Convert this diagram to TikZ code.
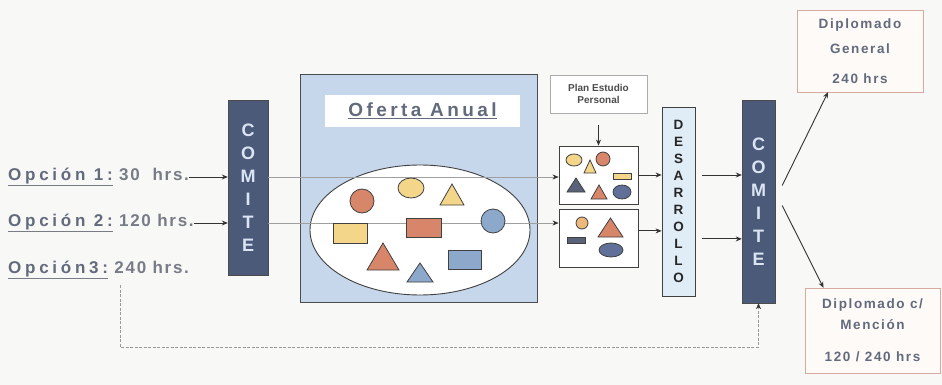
\documentclass[tikz,border=0pt]{standalone}
\usepackage{fontspec}
\setmainfont{Liberation Sans}
\newfontfamily\wideface[LetterSpace=22]{Liberation Sans}
\newfontfamily\titleface[LetterSpace=18]{Liberation Sans}
\newfontfamily\midface[LetterSpace=10]{Liberation Sans}
\newfontfamily\dipface[LetterSpace=12]{Liberation Sans}
\usetikzlibrary{positioning,arrows.meta,shapes.geometric}
\definecolor{paper}{RGB}{248,248,246}
\definecolor{comblue}{RGB}{76,90,122}
\definecolor{comtxt}{RGB}{218,228,242}
\definecolor{ofblue}{RGB}{198,215,236}
\definecolor{desfill}{RGB}{224,237,247}
\definecolor{labcol}{RGB}{98,106,124}
\definecolor{plaincol}{RGB}{120,124,134}
\definecolor{shorange}{RGB}{216,134,106}
\definecolor{shyellow}{RGB}{244,214,138}
\definecolor{shblue}{RGB}{140,168,202}
\definecolor{shdark}{RGB}{88,98,120}
\definecolor{shnavy}{RGB}{96,112,152}
\definecolor{shpeach}{RGB}{236,184,124}
\definecolor{dipline}{RGB}{214,170,160}
\definecolor{dipfill}{RGB}{253,250,248}
\tikzset{
  comite/.style ={draw=black!70, fill=comblue, text=comtxt, minimum width=40pt,
                  align=center, inner sep=0pt, font=\bfseries\fontsize{18}{23}\selectfont},
  desbox/.style ={draw=black!75, fill=desfill, text=black!85, minimum width=33pt,
                  minimum height=189pt, align=center, inner sep=0pt, line width=0.8pt,
                  font=\bfseries\fontsize{13.5}{17}\selectfont},
  offer/.style  ={draw=black!70, fill=ofblue, line width=1pt,
                  minimum width=237pt, minimum height=227pt},
  titlebox/.style={fill=white, minimum width=195pt, minimum height=32pt, text=labcol,
                  font=\titleface\bfseries\fontsize{19}{22}\selectfont},
  pool/.style   ={ellipse, draw=black!75, fill=white, line width=0.9pt,
                  minimum width=220pt, minimum height=130pt},
  selbox/.style ={draw=black!75, fill=white, line width=0.9pt,
                  minimum width=79pt, minimum height=58pt},
  planbox/.style={draw=gray!65, fill=white, minimum width=97pt, minimum height=38pt,
                  align=center, text=black!70, font=\bfseries\fontsize{10}{12}\selectfont},
  dipbox/.style ={draw=dipline, fill=dipfill, align=center, text=labcol,
                  font=\dipface\bfseries\fontsize{13.5}{25}\selectfont},
  opt/.style    ={anchor=west, inner sep=0pt, text=plaincol,
                  font=\midface\bfseries\fontsize{17}{19}\selectfont},
  fl/.style     ={-{Stealth[length=6pt,width=5pt]}, line width=0.9pt, black!80},
  guide/.style  ={-{Stealth[length=6pt,width=5pt,color=black!80]}, line width=0.5pt, gray!75},
  back/.style   ={-{Stealth[length=6pt,width=5pt,color=black!80]}, line width=0.5pt, gray!80,
                  dash pattern=on 3pt off 1.5pt},
  shO/.style    ={fill=shorange, draw=black!75, line width=0.8pt},
  shY/.style    ={fill=shyellow, draw=black!75, line width=0.8pt},
  shB/.style    ={fill=shblue,   draw=black!75, line width=0.8pt},
  shD/.style    ={fill=shdark,   draw=black!75, line width=0.8pt},
  shN/.style    ={fill=shnavy,   draw=black!75, line width=0.8pt},
  shP/.style    ={fill=shpeach,  draw=black!75, line width=0.8pt},
}
\newcommand{\optlab}[1]{\underline{\wideface\color{labcol}#1}}

\begin{document}
\begin{tikzpicture}[x=1pt, y=-1pt]
  \useasboundingbox (0,0) rectangle (942,385);
  \fill[paper] (0,0) rectangle (942,385);

  % annual offer
  \node[offer] (oferta) at (418.5,188.5) {};
  \node[titlebox] (otitle) at (422.5,111) {\underline{Oferta Anual}};
  \node[pool] (pool) at (420,230) {};

  % committees, development, selections
  \node[comite, minimum height=175pt] (comA) at (248,187.5) {C\\O\\M\\I\\T\\E};
  \node[comite, minimum width=33pt, minimum height=203pt] (comB) at (758.5,201.5) {C\\O\\M\\I\\T\\E};
  \node[desbox] (desa) at (678.5,201.5) {D\\E\\S\\A\\R\\R\\O\\L\\L\\O};
  \node[selbox] (selA) at (598.5,175) {};
  \node[selbox, below=5pt of selA] (selB) {};
  \node[planbox] (plan) at (598.5,94) {Plan Estudio\\Personal};

  \node[opt] (opt1) at (8,177) {\optlab{Opción 1:} 30\ \ hrs.};
  \node[opt] (opt2) at (8,223) {\optlab{Opción 2:} 120 hrs.};
  \node[opt] (opt3) at (8,270) {\optlab{Opción3:} 240 hrs.};

  \node[dipbox, minimum width=126pt, minimum height=82pt] (dipG) at (860,51)
        {Diplomado\\General\\[5pt]240 hrs};
  \node[dipbox, minimum width=135pt, minimum height=85pt,
        font=\dipface\bfseries\fontsize{13.5}{21}\selectfont] (dipM) at (872.5,330.5)
        {Diplomado c/\\Mención\\[11pt]120 / 240 hrs};

  \draw[guide] (comA.east |- opt1.east) -- (opt1.east -| selA.west);
  \draw[guide] (comA.east |- opt2.east) -- (opt2.east -| selB.west);

  % shapes of the offer
  \draw[shO] (362,201) circle[radius=12pt];
  \draw[shY] (411,188) ellipse[x radius=13pt, y radius=10pt];
  \draw[shY] (440,205) -- (464,205) -- (452,184) -- cycle;
  \draw[shB] (493,221) circle[radius=12pt];
  \draw[shY] (333,223) rectangle (367,243);
  \draw[shO] (406,218) rectangle (441,237);
  \draw[shO] (367,270) -- (399,270) -- (383,243) -- cycle;
  \draw[shB] (448,250) rectangle (481,269);
  \draw[shB] (407,282) -- (433,282) -- (420,263) -- cycle;

  % shapes of the selections
  \draw[shY] (574,160) ellipse[x radius=8pt, y radius=6pt];
  \draw[shY] (584,173) -- (596,173) -- (590,160) -- cycle;
  \draw[shO] (603,159) circle[radius=7pt];
  \draw[shY] (613,173) rectangle (631,179);
  \draw[shD] (567,192) -- (585,192) -- (576,178) -- cycle;
  \draw[shO] (591,199) -- (607,199) -- (599,185) -- cycle;
  \draw[shN] (622,192) ellipse[x radius=9pt, y radius=7pt];
  \draw[shP] (582,223) circle[radius=6pt];
  \draw[shD] (567,237) rectangle (585,243);
  \draw[shO] (598,237) -- (623,237) -- (610.5,218) -- cycle;
  \draw[shN] (611,250) ellipse[x radius=12pt, y radius=7pt];

  % connectors
  \draw[fl] (opt1.east) -- (opt1.east -| comA.west);
  \draw[fl] (opt2.east) -- (opt2.east -| comA.west);
  \draw[fl, line width=0.7pt, shorten <=12pt] (plan.south) -- (selA.north);
  \draw[fl] (selA.east) -- (selA.east -| desa.west);
  \draw[fl] ([yshift=8pt]selB.east) -- ([yshift=8pt]selB.east -| desa.west);
  \draw[fl] ([xshift=7pt]desa.east |- selA.east) -- (comB.west |- selA.east);
  \draw[fl] ([xshift=7pt]desa.east |- selB.east) -- (comB.west |- selB.east);
  \draw[fl] ([xshift=7pt, yshift=16pt]comB.east) -- ([xshift=-32pt]dipG.south);
  \draw[fl] ([xshift=7pt, yshift=-4pt]comB.east) -- ([xshift=-49pt]dipM.north);
  \draw[back] ([xshift=112pt, yshift=-6pt]opt3.south west) |- (comB.south |- 0,347) -- (comB.south);
\end{tikzpicture}
\end{document}
